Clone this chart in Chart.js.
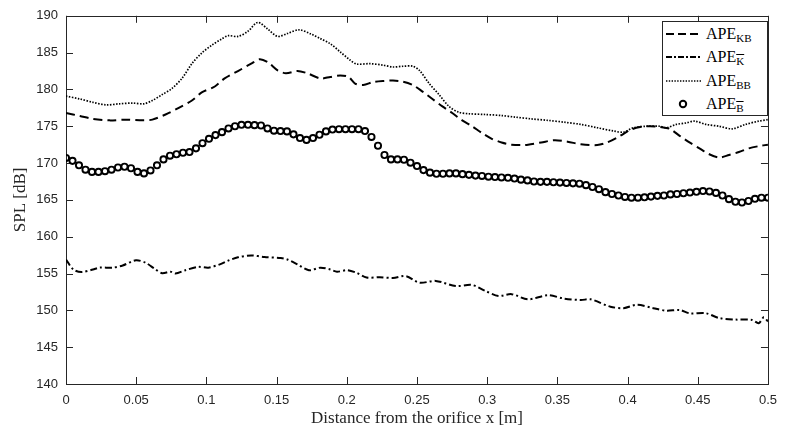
<!DOCTYPE html>
<html>
<head>
<meta charset="utf-8">
<script src="https://cdn.jsdelivr.net/npm/chart.js@4.4.0/dist/chart.umd.min.js"></script>
<style>
  html, body { margin: 0; padding: 0; background: #fff; }
  #wrap { position: relative; width: 786px; height: 430px; }
  #legend {
    position: absolute; left: 662px; top: 21px; width: 104px; height: 93px;
    border: 1px solid #262626; background: #fff;
    font-family: 'Liberation Serif', serif; font-size: 16px; color: #000;
  }
  .row { position: absolute; left: 0; height: 23px; display: flex; align-items: center; white-space: nowrap; }
  .row svg { width: 40px; height: 12px; margin-right: 3px; }
  .row sub { font-size: 11px; vertical-align: -3px; line-height: 0; }
  .ov { text-decoration: overline; }
</style>
</head>
<body>
<div id="wrap">
  <canvas id="splChart" width="786" height="430"></canvas>
  <div id="legend">
    <div class="row" style="top:0px"><svg><line x1="3" y1="6" x2="38" y2="6" stroke="#000" stroke-width="2" stroke-dasharray="8,4"/></svg><span>APE<sub>KB</sub></span></div>
    <div class="row" style="top:23px"><svg><line x1="3" y1="6" x2="38" y2="6" stroke="#000" stroke-width="2" stroke-dasharray="6,2,2,2"/></svg><span>APE<sub><span class="ov">K</span></sub></span></div>
    <div class="row" style="top:47px"><svg><line x1="3" y1="6" x2="38" y2="6" stroke="#000" stroke-width="1.6" stroke-dasharray="1.4,1.4"/></svg><span>APE<sub>BB</sub></span></div>
    <div class="row" style="top:70px"><svg><circle cx="20" cy="6" r="3.2" fill="none" stroke="#000" stroke-width="2"/></svg><span>APE<sub><span class="ov">B</span></sub></span></div>
  </div>
</div>
<script>
// APE_KB (dashed)
const kbX = [0, 0.0099, 0.0192, 0.031, 0.0427, 0.0545, 0.0615, 0.0709, 0.0803, 0.0897, 0.0967, 0.106, 0.113, 0.1225, 0.1319, 0.1378, 0.1437, 0.1507, 0.1566, 0.1648, 0.1718, 0.1812, 0.1883, 0.1953, 0.2012, 0.2059, 0.2117, 0.2188, 0.2258, 0.2329, 0.24, 0.247, 0.254, 0.261, 0.2681, 0.2751, 0.2822, 0.2892, 0.2962, 0.3033, 0.3103, 0.3174, 0.3249, 0.3291, 0.3385, 0.3479, 0.3573, 0.3667, 0.3784, 0.3855, 0.3948, 0.4019, 0.4089, 0.416, 0.423, 0.43, 0.4371, 0.4441, 0.4512, 0.4582, 0.4653, 0.4723, 0.4793, 0.4864, 0.4934, 0.5];
const kbY = [176.8, 176.4, 176.0, 175.8, 175.9, 175.8, 175.9, 176.6, 177.5, 178.5, 179.6, 180.4, 181.5, 182.5, 183.5, 184.1, 183.7, 182.6, 182.2, 182.5, 182.2, 181.5, 181.7, 181.9, 181.7, 180.8, 180.6, 181.0, 181.15, 181.2, 181.05, 180.6, 179.7, 178.7, 177.7, 176.8, 175.8, 175.0, 174.1, 173.3, 172.8, 172.5, 172.45, 172.5, 172.8, 173.1, 172.9, 172.55, 172.45, 172.8, 173.7, 174.5, 174.9, 175.0, 174.9, 174.65, 173.7, 172.8, 172.0, 171.2, 170.75, 171.1, 171.5, 172.0, 172.3, 172.5];

// APE_K-bar (dash-dot)
const kX = [0, 0.0052, 0.011, 0.0192, 0.0239, 0.0333, 0.0404, 0.0498, 0.0568, 0.0638, 0.0685, 0.0744, 0.0779, 0.085, 0.0944, 0.1014, 0.1096, 0.1155, 0.1225, 0.1319, 0.1413, 0.153, 0.1577, 0.1648, 0.173, 0.1812, 0.1883, 0.193, 0.2, 0.207, 0.2141, 0.2235, 0.2329, 0.2423, 0.2517, 0.2634, 0.2775, 0.2892, 0.2986, 0.308, 0.3174, 0.3291, 0.3432, 0.3549, 0.3667, 0.3737, 0.3878, 0.3972, 0.4066, 0.4183, 0.4277, 0.4371, 0.4441, 0.4559, 0.4653, 0.477, 0.4887, 0.4934, 0.497, 0.5];
const kY = [156.9, 155.55, 155.2, 155.55, 155.8, 155.8, 156.1, 156.8, 156.45, 155.55, 155.05, 155.25, 155.0, 155.45, 155.9, 155.8, 156.25, 156.75, 157.2, 157.45, 157.25, 157.1, 156.9, 156.25, 155.45, 155.8, 155.55, 155.25, 155.45, 155.1, 154.45, 154.5, 154.4, 154.65, 153.75, 154.0, 153.3, 153.45, 152.65, 151.95, 152.2, 151.5, 152.05, 151.6, 151.4, 151.5, 150.5, 150.3, 150.75, 150.3, 149.95, 150.05, 149.6, 149.6, 148.95, 148.75, 148.7, 148.25, 149.05, 148.5];

// APE_BB (dotted)
const bbX = [0, 0.0099, 0.0192, 0.0286, 0.038, 0.0474, 0.0556, 0.0615, 0.0685, 0.0756, 0.0826, 0.0897, 0.0967, 0.1038, 0.1108, 0.1155, 0.1225, 0.1296, 0.1366, 0.1437, 0.1507, 0.1577, 0.166, 0.1742, 0.1812, 0.1883, 0.1953, 0.2023, 0.207, 0.2164, 0.2258, 0.2329, 0.24, 0.247, 0.2517, 0.2587, 0.2657, 0.2728, 0.2798, 0.2869, 0.2986, 0.3103, 0.3197, 0.3315, 0.3432, 0.3549, 0.3667, 0.3784, 0.3901, 0.3972, 0.4042, 0.4136, 0.423, 0.4277, 0.4347, 0.4418, 0.4477, 0.4559, 0.4653, 0.4746, 0.484, 0.4934, 0.5];
const bbY = [179.1, 178.7, 178.25, 177.9, 178.05, 178.15, 178.05, 178.5, 179.3, 180.15, 181.5, 183.5, 184.95, 186.0, 186.85, 187.3, 187.2, 187.9, 189.1, 188.2, 187.2, 187.6, 188.1, 187.55, 186.9, 186.2, 185.1, 184.0, 183.45, 183.5, 183.3, 183.05, 183.15, 183.15, 182.6, 180.8, 179.3, 177.7, 176.9, 176.7, 176.6, 176.45, 176.25, 176.0, 175.8, 175.55, 175.25, 174.8, 174.35, 174.2, 174.8, 175.0, 175.0, 174.8, 175.25, 175.45, 175.7, 175.25, 175.0, 174.65, 175.25, 175.7, 175.9];

// APE_B-bar (circles, evenly sampled from 0 to 0.5)
const bY = [170.7, 170.3, 169.7, 169.1, 168.8, 168.8, 168.9, 169.1, 169.4, 169.5, 169.3, 168.8, 168.6, 169.0, 169.7, 170.5, 171.0, 171.2, 171.4, 171.5, 172.0, 172.7, 173.3, 173.8, 174.2, 174.7, 175.0, 175.2, 175.2, 175.15, 175.1, 174.7, 174.4, 174.35, 174.3, 173.9, 173.4, 173.15, 173.4, 173.85, 174.3, 174.55, 174.6, 174.6, 174.6, 174.6, 174.35, 173.55, 172.35, 171.1, 170.5, 170.5, 170.45, 170.05, 169.6, 169.05, 168.7, 168.55, 168.55, 168.6, 168.6, 168.5, 168.4, 168.3, 168.25, 168.15, 168.1, 168.05, 168.0, 167.9, 167.75, 167.65, 167.5, 167.45, 167.45, 167.4, 167.35, 167.3, 167.25, 167.2, 167.0, 166.75, 166.45, 166.05, 165.8, 165.6, 165.4, 165.3, 165.3, 165.35, 165.45, 165.55, 165.6, 165.75, 165.8, 165.9, 166.0, 166.1, 166.2, 166.15, 165.95, 165.6, 165.1, 164.75, 164.65, 164.85, 165.15, 165.3, 165.3];
const bXmax = 0.5;

const xTicks = [0, 0.05, 0.1, 0.15, 0.2, 0.25, 0.3, 0.35, 0.4, 0.45, 0.5];
const yTicks = [140, 145, 150, 155, 160, 165, 170, 175, 180, 185, 190];

const pairs = (xs, ys) => ys.map((v, i) => ({ x: xs[i], y: v }));
const axisColor = '#262626';

const matlabFrame = {
  id: 'matlabFrame',
  beforeDatasetsDraw(chart) {
    const { ctx, chartArea: a, scales: { x, y } } = chart;
    ctx.save();
    ctx.strokeStyle = axisColor;
    ctx.lineWidth = 1;
    ctx.beginPath();
    xTicks.forEach(t => {
      const px = Math.round(x.getPixelForValue(t)) + 0.5;
      ctx.moveTo(px, a.bottom); ctx.lineTo(px, a.bottom - 7);
      ctx.moveTo(px, a.top); ctx.lineTo(px, a.top + 7);
    });
    yTicks.forEach(t => {
      const py = Math.round(y.getPixelForValue(t)) + 0.5;
      ctx.moveTo(a.left, py); ctx.lineTo(a.left + 7, py);
      ctx.moveTo(a.right, py); ctx.lineTo(a.right - 7, py);
    });
    ctx.stroke();
    ctx.strokeRect(Math.round(a.left) + 0.5, Math.round(a.top) + 0.5,
      Math.round(a.right - a.left), Math.round(a.bottom - a.top));
    ctx.restore();
  }
};

const ctxSpl = document.getElementById('splChart').getContext('2d');
new Chart(ctxSpl, {
  type: 'line',
  data: {
    datasets: [
      {
        label: 'APE_B',
        data: bY.map((v, i) => ({ x: i * bXmax / (bY.length - 1), y: v })),
        showLine: false,
        pointStyle: 'circle',
        pointRadius: 3.1,
        pointBorderWidth: 1.9,
        pointBorderColor: '#000',
        pointBackgroundColor: 'rgba(0,0,0,0)',
      },
      {
        label: 'APE_KB',
        data: pairs(kbX, kbY),
        borderColor: '#000', borderWidth: 2, borderDash: [9, 5],
        pointRadius: 0, tension: 0.3, fill: false,
      },
      {
        label: 'APE_K',
        data: pairs(kX, kY),
        borderColor: '#000', borderWidth: 2, borderDash: [7, 3, 2, 3],
        pointRadius: 0, tension: 0.3, fill: false,
      },
      {
        label: 'APE_BB',
        data: pairs(bbX, bbY),
        borderColor: '#000', borderWidth: 1.7, borderDash: [1.5, 1.5],
        pointRadius: 0, tension: 0.3, fill: false,
      },
    ],
  },
  options: {
    responsive: false,
    animation: false,
    layout: { padding: { left: 0, right: 10, top: 12, bottom: 0 } },
    plugins: { legend: { display: false }, tooltip: { enabled: false } },
    scales: {
      x: {
        type: 'linear', min: 0, max: 0.5,
        afterFit: s => { s.height = 46; },
        afterBuildTicks: s => { s.ticks = xTicks.map(v => ({ value: v })); },
        grid: { display: false, drawTicks: false },
        border: { display: false },
        ticks: {
          padding: 9, color: axisColor, maxRotation: 0, autoSkip: false,
          font: { family: 'Liberation Sans', size: 13 },
          callback: v => String(Number(v.toFixed(2))),
        },
        title: {
          display: true, text: 'Distance from the orifice x [m]', color: axisColor,
          font: { family: 'Liberation Serif', size: 17 }, padding: { top: 0, bottom: 1 },
        },
      },
      y: {
        min: 140, max: 190,
        afterFit: s => { s.width = 66; },
        afterBuildTicks: s => { s.ticks = yTicks.map(v => ({ value: v })); },
        grid: { display: false, drawTicks: false },
        border: { display: false },
        ticks: {
          padding: 8, color: axisColor,
          font: { family: 'Liberation Sans', size: 13 },
        },
        title: {
          display: true, text: 'SPL [dB]', color: axisColor,
          font: { family: 'Liberation Serif', size: 17 }, padding: { top: 10, bottom: 0 },
        },
      },
    },
  },
  plugins: [matlabFrame],
});
</script>
</body>
</html>
